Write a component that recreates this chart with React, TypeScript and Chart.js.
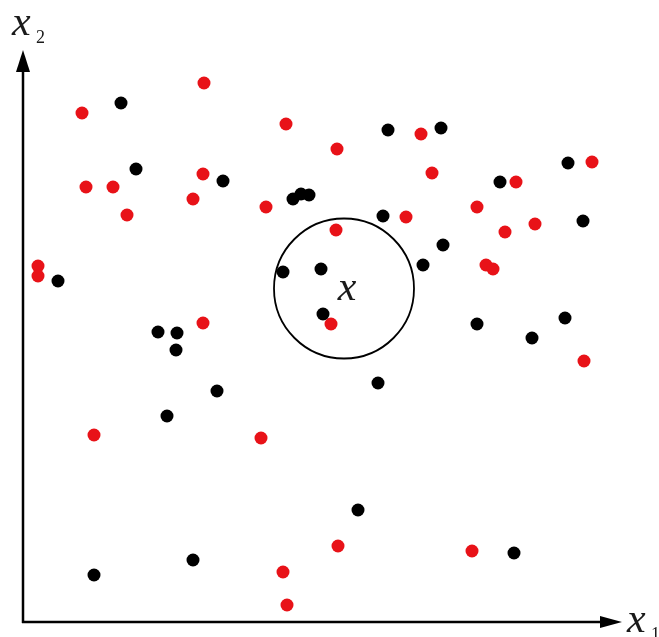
import React, { useEffect, useRef } from "react";
import { Chart, registerables } from "chart.js";

Chart.register(...registerables);

// Feature space coordinates (x1, x2)
const redX1 = [181, 59, 263, 314, 398, 409, 569, 493, 63, 90, 180, 170, 104, 243, 313, 383, 454, 512, 482, 463, 470, 15, 15, 180, 308, 561, 71, 238, 315, 449, 260, 264];
const redX2 = [539, 509, 498, 473, 488, 449, 460, 440, 435, 435, 448, 423, 407, 415, 392, 405, 415, 398, 390, 357, 353, 356, 346, 299, 298, 261, 187, 184, 76, 71, 50, 17];

const blackX1 = [98, 365, 418, 113, 200, 545, 477, 270, 278, 286, 360, 560, 420, 400, 35, 260, 298, 300, 454, 509, 542, 135, 154, 153, 194, 355, 144, 335, 491, 170, 71];
const blackX2 = [519, 492, 494, 453, 441, 459, 440, 423, 428, 427, 406, 401, 377, 357, 341, 350, 353, 308, 298, 284, 304, 290, 289, 272, 231, 239, 206, 112, 69, 62, 47];

// Query point x and its neighbourhood
const queryX1 = [321];
const queryX2 = [333.5];
const queryLabel = "x";

const axisMax = { x1: 599, x2: 572 };

const RED = "rgb(232, 18, 24)";
const BLACK = "#000000";

function toPoints(xs: number[], ys: number[]) {
  return xs.map((v, i) => ({ x: v, y: ys[i] }));
}

const axesPlugin = {
  id: "arrowAxes",
  afterDraw(chart: any) {
    const { ctx, chartArea, scales } = chart;
    const { left, right, top, bottom } = chartArea;
    ctx.save();
    ctx.strokeStyle = "#000";
    ctx.fillStyle = "#000";
    ctx.lineWidth = 2.5;
    ctx.lineCap = "butt";
    // y axis
    ctx.beginPath();
    ctx.moveTo(left, bottom + 1);
    ctx.lineTo(left, top + 14);
    ctx.stroke();
    // x axis
    ctx.beginPath();
    ctx.moveTo(left - 1, bottom);
    ctx.lineTo(right - 14, bottom);
    ctx.stroke();
    // y arrowhead
    ctx.beginPath();
    ctx.moveTo(left, top);
    ctx.lineTo(left + 7, top + 22);
    ctx.lineTo(left - 7, top + 22);
    ctx.closePath();
    ctx.fill();
    // x arrowhead
    ctx.beginPath();
    ctx.moveTo(right, bottom);
    ctx.lineTo(right - 22, bottom - 6);
    ctx.lineTo(right - 22, bottom + 6);
    ctx.closePath();
    ctx.fill();

    // labels
    ctx.fillStyle = "#1a1a1a";
    ctx.textBaseline = "alphabetic";
    ctx.textAlign = "left";
    ctx.font = 'italic 42px "Liberation Serif", "DejaVu Serif", serif';
    ctx.fillText("x", left - 11, top - 15);
    ctx.fillText("x", right + 5, bottom + 10);
    ctx.font = '18px "Liberation Serif", "DejaVu Serif", serif';
    ctx.fillText("2", left + 13, top - 7);
    ctx.fillText("1", right + 29, bottom + 18);

    // query label
    const cx = scales.x.getPixelForValue(queryX1[0]);
    const cy = scales.y.getPixelForValue(queryX2[0]);
    ctx.font = 'italic 42px "Liberation Serif", "DejaVu Serif", serif';
    ctx.textAlign = "center";
    ctx.fillText(queryLabel, cx + 3, cy + 11);
    ctx.restore();
  },
};

export default function App() {
  const ref = useRef<HTMLCanvasElement | null>(null);
  useEffect(() => {
    if (!ref.current) return;
    const chart = new Chart(ref.current, {
      type: "scatter",
      data: {
        datasets: [
          {
            label: "neighbourhood",
            data: toPoints(queryX1, queryX2),
            pointRadius: 70,
            pointBackgroundColor: "rgba(0,0,0,0)",
            pointBorderColor: "#000",
            pointBorderWidth: 1.8,
            order: 3,
          },
          {
            label: "red",
            data: toPoints(redX1, redX2),
            pointRadius: 6.5,
            pointBackgroundColor: RED,
            pointBorderWidth: 0,
            order: 2,
          },
          {
            label: "black",
            data: toPoints(blackX1, blackX2),
            pointRadius: 6.5,
            pointBackgroundColor: BLACK,
            pointBorderWidth: 0,
            order: 1,
          },
        ],
      },
      options: {
        responsive: false,
        animation: false,
        layout: { autoPadding: false, padding: { left: 23, top: 50, right: 37, bottom: 15 } },
        plugins: { legend: { display: false }, tooltip: { enabled: false } },
        scales: {
          x: { type: "linear", min: 0, max: axisMax.x1, display: false },
          y: { type: "linear", min: 0, max: axisMax.x2, display: false },
        },
      },
      plugins: [axesPlugin],
    });
    return () => chart.destroy();
  }, []);
  return (
    <div style={{ position: "absolute", left: 0, top: 0, width: 659, height: 637, background: "#fff" }}>
      <canvas ref={ref} width={659} height={637} />
    </div>
  );
}
